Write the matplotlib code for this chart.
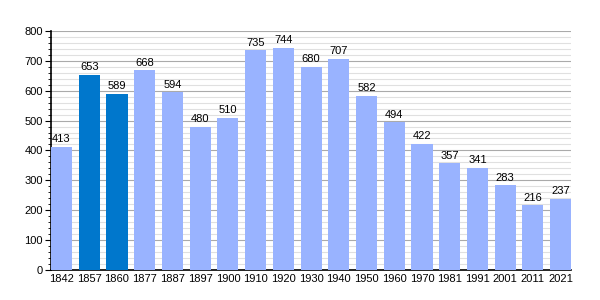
import matplotlib
matplotlib.use("Agg")
import matplotlib.pyplot as plt
from matplotlib.ticker import MultipleLocator

plt.rcParams['font.family'] = ['Liberation Sans', 'DejaVu Sans']

years = ["1842", "1857", "1860", "1877", "1887", "1897", "1900", "1910", "1920", "1930",
         "1940", "1950", "1960", "1970", "1981", "1991", "2001", "2011", "2021"]
population = [413, 653, 589, 668, 594, 480, 510, 735, 744, 680,
              707, 582, 494, 422, 357, 341, 283, 216, 237]
highlighted = ["1857", "1860"]

light = "#99b3ff"
dark = "#0077cc"
colors = [dark if y in highlighted else light for y in years]

fig = plt.figure(figsize=(6, 3), dpi=100)
ax = fig.add_axes([0.085, 0.1, 0.867, 0.797])

w = 0.76
x = range(len(years))
ax.bar(x, population, width=w, color=colors, zorder=3)
for xi, v in zip(x, population):
    ax.text(xi, v + 9, str(v), ha="center", va="bottom", fontsize=8, color="black", zorder=4)

ax.set_xlim(-w / 2, len(years) - 1 + w / 2)
ax.set_ylim(0, 800)
ax.yaxis.set_major_locator(MultipleLocator(100))
ax.yaxis.set_minor_locator(MultipleLocator(20))
ax.grid(which="major", axis="y", color="#aaaaaa", linewidth=0.8, zorder=1)
ax.grid(which="minor", axis="y", color="#e0e0e0", linewidth=0.8, zorder=0)
ax.set_xticks(list(x))
ax.set_xticklabels(years)
ax.tick_params(axis="x", length=0, labelsize=8, pad=3)
ax.tick_params(axis="y", which="major", length=4, labelsize=8, direction="out", pad=2)
ax.tick_params(axis="y", which="minor", length=2, direction="out")
for s in ["top", "right"]:
    ax.spines[s].set_visible(False)
ax.spines["left"].set_linewidth(1.2)
ax.spines["bottom"].set_linewidth(1.2)

fig.savefig("out.png", dpi=100)
